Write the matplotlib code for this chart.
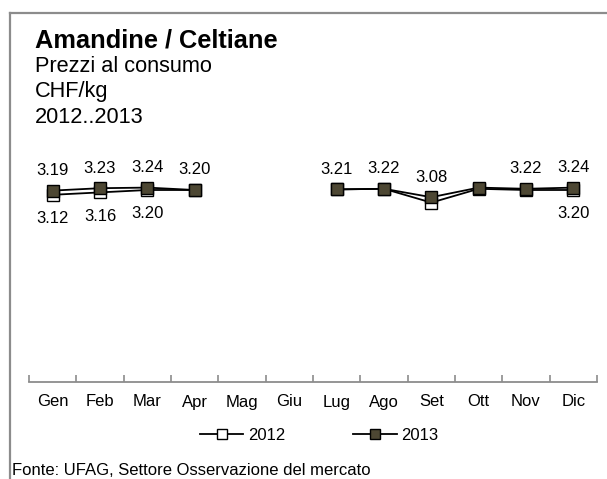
import numpy as np
import matplotlib
matplotlib.use("Agg")
import matplotlib.pyplot as plt
from matplotlib.lines import Line2D

plt.rcParams['font.family'] = ['Liberation Sans', 'DejaVu Sans']

months = ["Gen", "Feb", "Mar", "Apr", "Mag", "Giu", "Lug", "Ago", "Set", "Ott", "Nov", "Dic"]
prices_2012 = [3.12, 3.16, 3.20, 3.20, np.nan, np.nan, 3.21, 3.22, 2.99, 3.22, 3.20, 3.20]
prices_2013 = [3.19, 3.23, 3.24, 3.20, np.nan, np.nan, 3.21, 3.22, 3.08, 3.24, 3.22, 3.24]
# months whose value is printed next to the marker
labelled_2013 = ["Gen", "Feb", "Mar", "Apr", "Lug", "Ago", "Set", "Nov", "Dic"]
labelled_2012 = ["Gen", "Feb", "Mar", "Dic"]

W, H = 607, 479
fig = plt.figure(figsize=(W / 100, H / 100), dpi=100)
PX = 72 / 100  # points per pixel

# outer frame (top and left edges)
fig.add_artist(Line2D([10 / W, 10 / W], [0, 1 - 13 / H], transform=fig.transFigure,
                      color="#8c8c8c", lw=1.6))
fig.add_artist(Line2D([10 / W, 1], [1 - 13 / H, 1 - 13 / H], transform=fig.transFigure,
                      color="#8c8c8c", lw=1.6))

ax = fig.add_axes([29 / W, 97 / H, 568 / W, 240 / H])
x = np.arange(len(months))
olive = "#4d4733"
ax.plot(x, prices_2012, color="black", lw=1.3, marker="s", markersize=9,
        markerfacecolor="white", markeredgecolor="black", markeredgewidth=1.0, zorder=3)
ax.plot(x, prices_2013, color="black", lw=1.3, marker="s", markersize=9,
        markerfacecolor=olive, markeredgecolor="black", markeredgewidth=1.0, zorder=4)

for i, m in enumerate(months):
    if m in labelled_2013:
        ax.annotate(f"{prices_2013[i]:.2f}", (i, prices_2013[i]), xytext=(0, 20 * PX),
                    textcoords="offset points", ha="center", va="center", fontsize=12)
    if m in labelled_2012:
        ax.annotate(f"{prices_2012[i]:.2f}", (i, prices_2012[i]), xytext=(0, -24 * PX),
                    textcoords="offset points", ha="center", va="center", fontsize=12)

ax.set_xlim(-0.5, 11.5)
ax.set_ylim(0, 4)
for s in ["top", "right", "left"]:
    ax.spines[s].set_visible(False)
ax.spines["bottom"].set_color("#8c8c8c")
ax.spines["bottom"].set_linewidth(1.3)
ax.set_yticks([])
ax.set_xticks(x)
ax.set_xticklabels(months, fontsize=12)
ax.tick_params(axis="x", which="major", length=0, pad=9)
ax.set_xticks(np.arange(-0.5, 12, 1), minor=True)
ax.tick_params(axis="x", which="minor", direction="in", length=5, color="#8c8c8c", width=1.2)

handles = [
    Line2D([], [], color="black", lw=1.3, marker="s", markersize=6.5,
           markerfacecolor="white", markeredgecolor="black"),
    Line2D([], [], color="black", lw=1.3, marker="s", markersize=6.5,
           markerfacecolor=olive, markeredgecolor="black"),
]
fig.legend(handles, ["2012", "2013"], loc="center", bbox_to_anchor=(319 / W, 1 - 435 / H),
           ncol=2, frameon=False, fontsize=12, handlelength=2.6, handletextpad=0.25,
           columnspacing=4.1, borderpad=0, borderaxespad=0)

# titles
fig.text(35 / W, 1 - 47 / H, "Amandine / Celtiane", fontsize=18.3, fontweight="bold",
         va="baseline", ha="left")
fig.text(35 / W, 1 - 72 / H, "Prezzi al consumo", fontsize=15.7, va="baseline", ha="left")
fig.text(35 / W, 1 - 97 / H, "CHF/kg", fontsize=15.7, va="baseline", ha="left")
fig.text(35 / W, 1 - 123 / H, "2012..2013", fontsize=15.7, va="baseline", ha="left")

fig.text(12 / W, 1 - 475 / H, "Fonte: UFAG, Settore Osservazione del mercato",
         fontsize=12, va="baseline", ha="left")

fig.savefig("out.png", dpi=100)
